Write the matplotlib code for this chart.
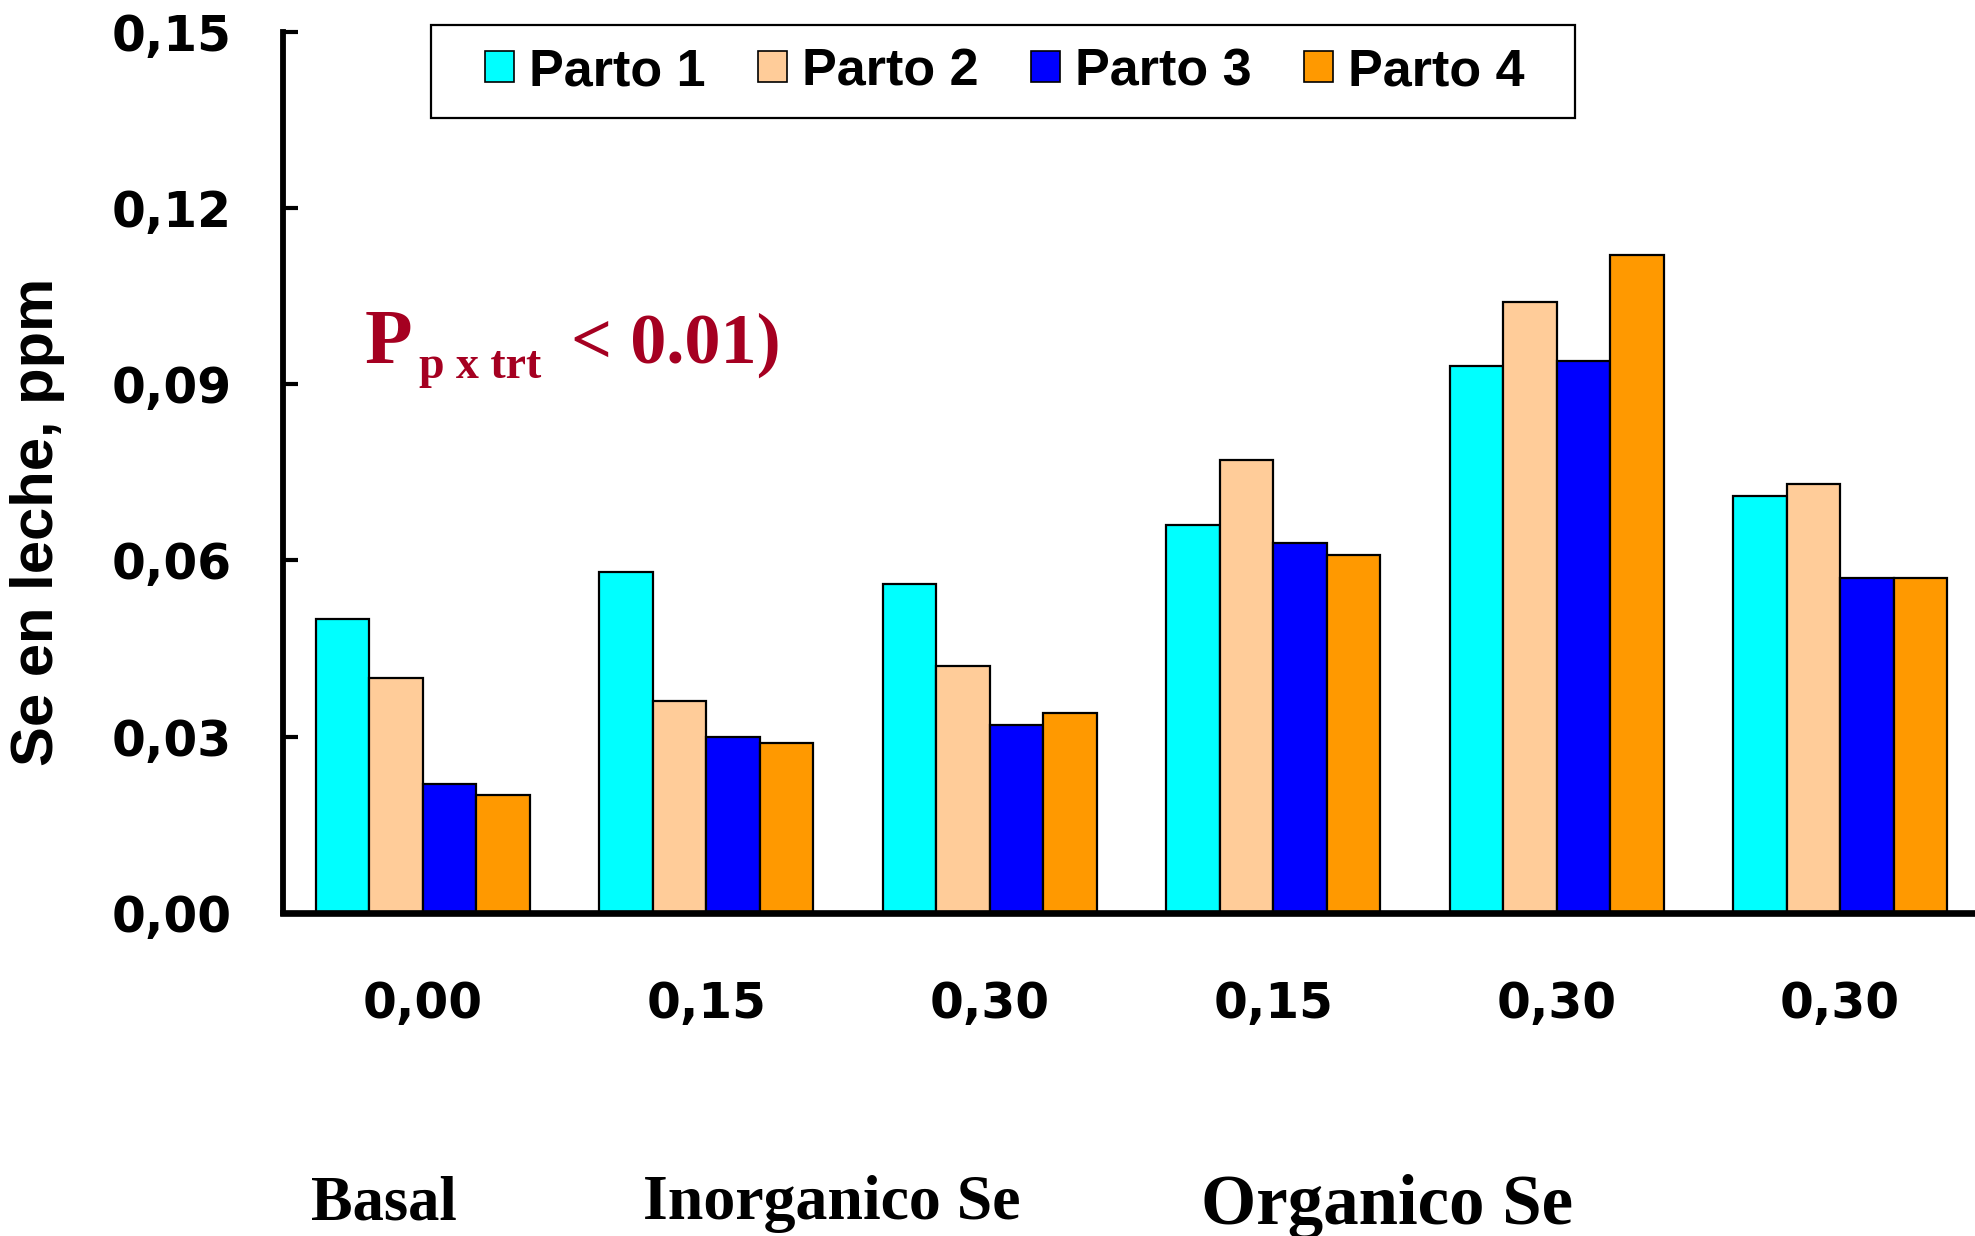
import matplotlib
matplotlib.use("Agg")
import matplotlib.pyplot as plt
from matplotlib.patches import Patch, Rectangle
from matplotlib import font_manager
import numpy as np

# ---- data ----
dose_labels = ["0,00", "0,15", "0,30", "0,15", "0,30", "0,30"]
series_names = ["Parto 1", "Parto 2", "Parto 3", "Parto 4"]
parto1 = [0.050, 0.058, 0.056, 0.066, 0.093, 0.071]
parto2 = [0.040, 0.036, 0.042, 0.077, 0.104, 0.073]
parto3 = [0.022, 0.030, 0.032, 0.063, 0.094, 0.057]
parto4 = [0.020, 0.029, 0.034, 0.061, 0.112, 0.057]
yticks = [0.00, 0.03, 0.06, 0.09, 0.12, 0.15]
ytick_labels = ["0,00", "0,03", "0,06", "0,09", "0,12", "0,15"]
colors = ["#00FFFF", "#FFCC99", "#0000FF", "#FF9900"]

installed = {f.name for f in font_manager.fontManager.ttflist}
has_narrow = "Liberation Sans Narrow" in installed
if has_narrow:
    sans_family = ["Liberation Sans Narrow", "Liberation Sans", "DejaVu Sans"]
    legend_size, ylabel_size = 43, 48
else:
    sans_family = ["Liberation Sans", "DejaVu Sans"]
    legend_size, ylabel_size = 37.5, 43

W, H = 1975, 1236
fig = plt.figure(figsize=(W / 100, H / 100), dpi=100)
fig.patch.set_facecolor("white")

def fx(px):
    return px / W

def fy(py):
    return 1 - py / H

ax = fig.add_axes([fx(283), fy(913), 1 - fx(283), fy(31.5) - fy(913)])
ax.patch.set_alpha(0)

x = np.arange(len(dose_labels))
bw = 0.189
series = [parto1, parto2, parto3, parto4]
for i, (vals, c) in enumerate(zip(series, colors)):
    ax.bar(x + (i - 1.5) * bw, vals, width=bw, color=c, edgecolor="black",
           linewidth=1.6, zorder=2)

ax.set_xlim(-0.493, 5.4756)
ax.set_ylim(0, 0.15)

for s in ["top", "right"]:
    ax.spines[s].set_visible(False)
ax.spines["left"].set_linewidth(4.2)
ax.spines["bottom"].set_linewidth(4.8)
ax.spines["bottom"].set_zorder(3)

tick_font = dict(family=["DejaVu Sans"], weight="bold", size=35)
ax.set_yticks(yticks)
ax.set_yticklabels(ytick_labels, fontdict=tick_font)
ax.tick_params(axis="y", direction="in", length=11, width=3, pad=37)
ax.set_xticks(x)
ax.set_xticklabels(dose_labels, fontdict=tick_font)
ax.tick_params(axis="x", length=0, pad=48)

# y label
fig.text(fx(38), fy(522), "Se en leche, ppm", rotation=90, ha="center", va="center",
         family=sans_family, weight="bold", fontsize=ylabel_size)

# group labels
serif = ["Liberation Serif", "DejaVu Serif"]
fig.text(fx(384), fy(1219), "Basal", ha="center", va="baseline",
         family=serif, weight="bold", fontsize=45)
fig.text(fx(832), fy(1219), "Inorganico Se", ha="center", va="baseline",
         family=serif, weight="bold", fontsize=46)
fig.text(fx(1387), fy(1224), "Organico Se", ha="center", va="baseline",
         family=serif, weight="bold", fontsize=51)

# annotation
red = "#A50021"
fig.text(fx(365), fy(363), "P", ha="left", va="baseline", color=red,
         family=serif, weight="bold", fontsize=56)
fig.text(fx(419), fy(378), "p x trt", ha="left", va="baseline", color=red,
         family=serif, weight="bold", fontsize=33)
fig.text(fx(571), fy(363), "< 0.01)", ha="left", va="baseline", color=red,
         family=serif, weight="bold", fontsize=52)

# legend box + legend
box = Rectangle((fx(431), fy(118)), fx(1575) - fx(431), fy(25) - fy(118),
                transform=fig.transFigure, facecolor="white", edgecolor="black",
                linewidth=1.6, zorder=1)
fig.patches.append(box)
handles = [Patch(facecolor=c, edgecolor="black", linewidth=1.2) for c in colors]
leg = fig.legend(handles, series_names, loc="center",
                 bbox_to_anchor=(fx(1005), fy(71.5)), ncol=4, frameon=False,
                 prop=dict(family=sans_family, weight="bold", size=legend_size),
                 handlelength=0.55, handleheight=0.55, handletextpad=0.3,
                 columnspacing=1.0, borderpad=0.2)
leg.set_zorder(5)

fig.savefig("out.png", dpi=100)
